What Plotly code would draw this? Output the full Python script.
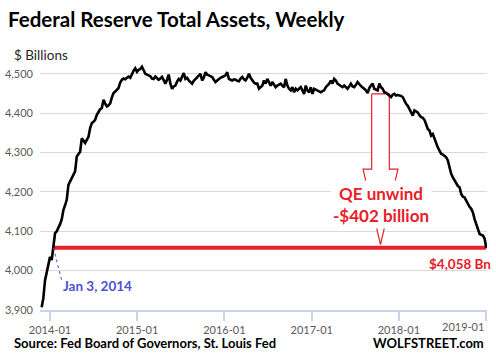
import pandas as pd
import plotly.graph_objects as go

# Weekly total assets ($ billions), Wednesdays
assets_2013 = [3907, 3930, 3975, 3995, 4012]
assets_2014 = [4035, 4027, 4058, 4095, 4100, 4108, 4118, 4130, 4154, 4166,
               4180, 4218, 4226, 4235, 4244, 4252, 4290, 4296, 4302, 4336,
               4328, 4324, 4332, 4340, 4362, 4375, 4378, 4383, 4396, 4404,
               4410, 4413, 4434, 4424, 4417, 4420, 4425, 4440, 4451, 4455,
               4460, 4464, 4478, 4485, 4488, 4486, 4490, 4493, 4490, 4500,
               4508, 4514, 4505]
assets_2015 = [4510, 4512, 4518, 4508, 4500, 4498, 4496, 4494, 4488, 4487,
               4493, 4490, 4485, 4488, 4492, 4484, 4475, 4485, 4498, 4475,
               4462, 4468, 4470, 4480, 4487, 4483, 4492, 4502, 4487, 4490,
               4483, 4480, 4475, 4482, 4487, 4490, 4496, 4500, 4483, 4490,
               4504, 4498, 4496, 4494, 4492, 4485, 4479, 4483, 4487, 4490,
               4492, 4494]
assets_2016 = [4496, 4504, 4487, 4485, 4483, 4486, 4485, 4482, 4481, 4488,
               4492, 4486, 4483, 4490, 4500, 4490, 4483, 4478, 4475, 4475,
               4462, 4466, 4470, 4483, 4475, 4487, 4478, 4470, 4479, 4472,
               4466, 4470, 4473, 4475, 4470, 4466, 4487, 4470, 4462, 4458,
               4466, 4453, 4462, 4458, 4462, 4466, 4458, 4449, 4470, 4458,
               4453, 4466]
assets_2017 = [4449, 4462, 4460, 4458, 4456, 4453, 4456, 4458, 4466, 4470,
               4475, 4483, 4475, 4487, 4483, 4475, 4472, 4470, 4466, 4470,
               4466, 4462, 4468, 4475, 4468, 4466, 4472, 4479, 4474, 4468,
               4465, 4462, 4458, 4451, 4464, 4470, 4475, 4462, 4460, 4458,
               4475, 4466, 4462, 4453, 4452, 4449, 4446, 4441, 4447, 4449,
               4445, 4446]
assets_2018 = [4445, 4444, 4441, 4430, 4424, 4419, 4410, 4402, 4394, 4407,
               4404, 4402, 4395, 4390, 4388, 4383, 4372, 4360, 4356, 4343,
               4347, 4335, 4322, 4313, 4305, 4297, 4295, 4292, 4288, 4280,
               4263, 4246, 4237, 4229, 4220, 4215, 4212, 4195, 4188, 4186,
               4178, 4169, 4162, 4157, 4148, 4131, 4119, 4102, 4093, 4091,
               4089, 4081]
assets_2019 = [4058]

assets = (assets_2013 + assets_2014 + assets_2015 + assets_2016
          + assets_2017 + assets_2018 + assets_2019)
dates = pd.date_range("2013-11-27", periods=len(assets), freq="7D")

x_ticks = ["2014-01-01", "2015-01-01", "2016-01-01", "2017-01-01", "2018-01-01", "2019-01-01"]
x_tick_labels = ["2014-01", "2015-01", "2016-01", "2017-01", "2018-01", "2019-01"]
y_ticks = [3900, 4000, 4100, 4200, 4300, 4400, 4500]

start_idx = 7            # week matching the Jan 2014 level
level = assets[-1]       # 4,058
unwind_top = 4449        # level where the arrow starts (Q4 2017)
unwind_center = pd.Timestamp("2017-10-16")

RED = "#E8202A"
BLUE = "#4F4FD0"
FONT = "Lato"

fig = go.Figure()

# Hollow block arrow (drawn below the data line)
d = pd.Timedelta
head_base = 4258
arrow_x = [unwind_center - d(days=37), unwind_center + d(days=37), unwind_center + d(days=37),
           unwind_center + d(days=73), unwind_center, unwind_center - d(days=73),
           unwind_center - d(days=37), unwind_center - d(days=37)]
arrow_y = [unwind_top, unwind_top, head_base, head_base, level + 8, head_base, head_base, unwind_top]
fig.add_trace(go.Scatter(x=arrow_x, y=arrow_y, mode="lines", fill="toself",
                         fillcolor="white", line=dict(color=RED, width=1.2),
                         hoverinfo="skip", showlegend=False))

# Red reference level
fig.add_trace(go.Scatter(x=[dates[start_idx], dates[-1]], y=[level, level], mode="lines",
                         line=dict(color=RED, width=4), showlegend=False))

# Data line
fig.add_trace(go.Scatter(x=dates, y=assets, mode="lines",
                         line=dict(color="black", width=2.6), showlegend=False))

# Last tick label is drawn separately (shifted left to stay inside the canvas)
axis_tick_text = x_tick_labels[:-1] + [""]

fig.update_layout(
    template="none",
    width=496, height=364,
    margin=dict(l=40, r=9, t=62, b=54, autoexpand=False),
    paper_bgcolor="white", plot_bgcolor="white",
    font=dict(family=FONT, size=11, color="#595959"),
    showlegend=False,
    title=dict(text="<b>Federal Reserve Total Assets, Weekly</b>",
               x=8 / 496, xanchor="left", xref="container",
               y=1 - 20 / 364, yanchor="middle", yref="container",
               pad=dict(l=0, r=0, t=0, b=0),
               font=dict(family=FONT, size=20.5, color="black")),
    xaxis=dict(type="date", range=["2013-11-20", "2019-01-05"],
               tickvals=x_ticks, ticktext=axis_tick_text, automargin=False,
               showgrid=False, zeroline=False,
               showline=True, linecolor="#C9D3EC", linewidth=1.5,
               ticks="outside", ticklen=9, tickcolor="#C9D3EC", tickwidth=1.5,
               tickfont=dict(family=FONT, size=11, color="#595959")),
    yaxis=dict(range=[3900, 4530], tickvals=y_ticks, tickformat=",", automargin=False,
               showgrid=True, gridcolor="#D9D9D9", gridwidth=1,
               zeroline=False, showline=False, ticks="",
               ticklabelstandoff=6,
               tickfont=dict(family=FONT, size=11, color="#595959")),
)

# Dotted connector for the Jan 2014 label
fig.add_shape(type="line", xref="x", yref="y",
              x0=dates[start_idx], y0=level, x1="2014-02-19", y1=3975,
              line=dict(color=BLUE, width=1, dash="dot"))

annotations = [
    dict(text="$ Billions", xref="paper", yref="paper", x=-0.062, y=1.030,
         xanchor="left", yanchor="middle", showarrow=False,
         font=dict(family=FONT, size=13.5, color="#262626")),
    dict(text=x_tick_labels[-1], xref="paper", yref="paper", x=0.9975, y=-0.066,
         xanchor="right", yanchor="middle", showarrow=False,
         font=dict(family=FONT, size=11, color="#595959")),
    dict(text="<b>Jan 3, 2014</b>", xref="x", yref="y", x="2014-02-16", y=3962,
         xanchor="left", yanchor="middle", showarrow=False,
         font=dict(family=FONT, size=13.5, color=BLUE)),
    dict(text="<b>QE unwind<br>-$402 billion</b>", xref="x", yref="y",
         x=unwind_center, y=4167, xanchor="center", yanchor="middle",
         showarrow=False, bgcolor="white", borderpad=2,
         font=dict(family=FONT, size=17, color=RED)),
    dict(text="<b>$4,058 Bn</b>", xref="paper", yref="y", x=1.013, y=4018,
         xanchor="right", yanchor="middle", showarrow=False,
         font=dict(family=FONT, size=13.5, color=RED)),
    dict(text="<b>Source: Fed Board of Governors, St. Louis Fed</b>", xref="paper", yref="paper",
         x=-0.063, y=-0.133, xanchor="left", yanchor="middle", showarrow=False,
         font=dict(family=FONT, size=13, color="black")),
    dict(text="<b>WOLFSTREET.com</b>", xref="paper", yref="paper",
         x=0.998, y=-0.133, xanchor="right", yanchor="middle", showarrow=False,
         font=dict(family=FONT, size=13, color="black")),
]
fig.update_layout(annotations=annotations)

fig.write_html("out.html", config={"displayModeBar": False},
               post_script="document.body.style.margin='0';document.body.style.padding='0';")
